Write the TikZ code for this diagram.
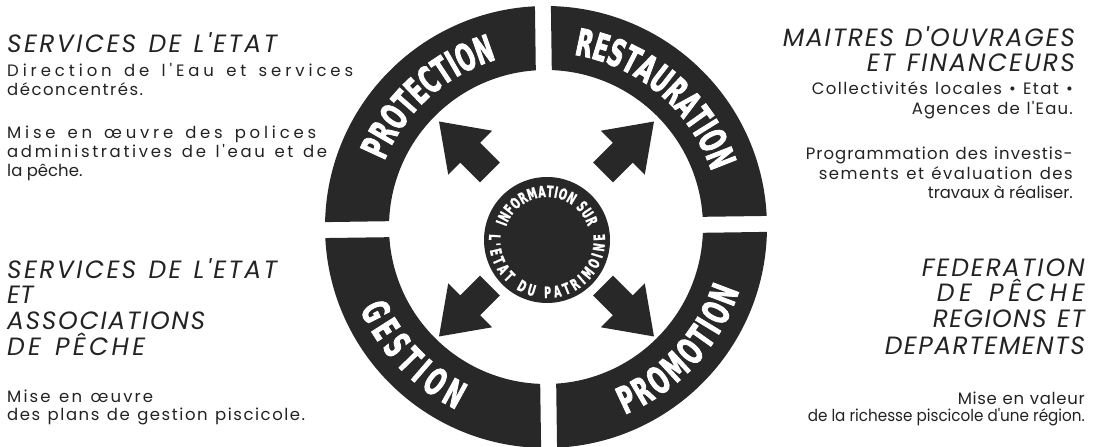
\documentclass[tikz,border=0pt]{standalone}
\usepackage{fontspec}
\usepackage{graphicx}
\usetikzlibrary{decorations.text}
\setmainfont{Poppins}
\newfontfamily\bodyfont{Poppins}
\newfontfamily\headfont{Poppins}
\newfontfamily\ringfont[FakeStretch=0.58,FakeBold=2]{DejaVu Sans}
\newfontfamily\discfont[FakeStretch=0.62,FakeBold=1.5]{DejaVu Sans}
\definecolor{ink}{RGB}{35,35,35}
\definecolor{ringgray}{RGB}{40,40,40}
\newlength\natw
\def\lsp#1{\lspA#1\relax}
\def\lspA#1{#1\lspB}
\def\lspB#1{\ifx#1\relax\else\hfill#1\expandafter\lspB\fi}
\newcommand\fitline[2]{\settowidth\natw{#2}\ifdim\natw<#1\relax\hbox to #1{\lsp{#2}}\else\resizebox{#1}{\height}{#2}\fi}
\tikzset{
  head/.style={font=\headfont\itshape\fontsize{25}{25}\selectfont, text=ink, inner sep=0pt},
  body/.style={font=\bodyfont\fontsize{16.5}{16.5}\selectfont, text=ink, inner sep=0pt},
  ringtext/.style={decorate, decoration={text along path, text color=white, text align={fit to path}}},
}
\begin{document}
\begin{tikzpicture}[x=1pt,y=1pt]
\fill[white] (0,0) rectangle (1104,447);
\useasboundingbox (0,0) rectangle (1104,447);

% ring
\begin{scope}[shift={(546,220)}, rotate=0.8]
  \foreach \a in {0,90,180,270}
    \fill[ringgray, rotate=\a] (2.07:221) arc[start angle=2.07, end angle=87.93, radius=221]
      -- (87.08:157) arc[start angle=87.08, end angle=2.92, radius=157] -- cycle;
  \path[ringtext, decoration={text={|\ringfont\bfseries\fontsize{37.5}{37.5}\selectfont|PROTECTION}}]
    (157:174.5) arc[start angle=157, end angle=106, radius=174.5];
  \path[ringtext, decoration={text={|\ringfont\bfseries\fontsize{37.5}{37.5}\selectfont|RESTAURATION}}]
    (80:174.5) arc[start angle=80, end angle=19, radius=174.5];
  \path[ringtext, decoration={text={|\ringfont\bfseries\fontsize{37.5}{37.5}\selectfont|GESTION}}]
    (203:203.5) arc[start angle=203, end angle=243, radius=203.5];
  \path[ringtext, decoration={text={|\ringfont\bfseries\fontsize{37.5}{37.5}\selectfont|PROMOTION}}]
    (292:203.5) arc[start angle=292, end angle=341, radius=203.5];
\end{scope}

% arrows
\begin{scope}[shift={(546.5,218)}]
  \foreach \a in {45,135,225,315}
    \fill[ringgray, rotate=\a] (80,-14) -- (108,-14) -- (108,-31) -- (152,0) -- (108,31) -- (108,14) -- (80,14) -- cycle;
\end{scope}

% central disc
\begin{scope}[shift={(547,207)}]
  \fill[ringgray] (0,0) circle[radius=63];
  \path[ringtext, decoration={text={|\discfont\bfseries\fontsize{15.5}{15.5}\selectfont|INFORMATION SUR}}]
    (162:43) arc[start angle=162, end angle=18, radius=43];
  \path[ringtext, decoration={text={|\discfont\bfseries\fontsize{15.5}{15.5}\selectfont|L'ETAT DU PATRIMOINE}}]
    (174:58) arc[start angle=174, end angle=366, radius=58];
\end{scope}

% top left
\node[head, anchor=base west] (tlh) at (7,394) {\fitline{270pt}{SERVICES~DE~L'ETAT}};
\node[body, anchor=base west] (tl1) at (7,370) {\fitline{346pt}{Direction~de~l'Eau~et~services}};
\node[body, anchor=base west] (tl2) at (7,351) {\fitline{136pt}{déconcentrés.}};
\node[body, anchor=base west] (tl3) at (7,308) {\fitline{309pt}{Mise~en~œuvre~des~polices}};
\node[body, anchor=base west] (tl4) at (7,289) {\fitline{320pt}{administratives~de~l'eau~et~de}};
\node[body, anchor=base west] (tl5) at (7,270) {la pêche.};

% top right
\node[head, anchor=base east] (trh1) at (1075,400) {\fitline{292pt}{MAITRES~D'OUVRAGES}};
\node[head, anchor=base east] (trh2) at (1075,375) {\fitline{208pt}{ET~FINANCEURS}};
\node[body, anchor=base east] (tr1) at (1073,352) {\fitline{261pt}{Collectivités~locales~•~Etat~•}};
\node[body, anchor=base east] (tr2) at (1073,332) {\fitline{161pt}{Agences~de~l'Eau.}};
\node[body, anchor=base east] (tr3) at (1073,287) {\fitline{267pt}{Programmation~des~investis-}};
\node[body, anchor=base east] (tr4) at (1073,267) {\fitline{254pt}{sements~et~évaluation~des}};
\node[body, anchor=base east] (tr5) at (1073,248) {\fitline{145pt}{travaux~à~réaliser.}};

% bottom left
\node[head, anchor=base west] (blh1) at (7,168) {\fitline{270pt}{SERVICES~DE~L'ETAT}};
\node[head, anchor=base west] (blh2) at (7,143) {ET};
\node[head, anchor=base west] (blh3) at (7,117) {\fitline{198pt}{ASSOCIATIONS}};
\node[head, anchor=base west] (blh4) at (7,91) {\fitline{138pt}{DE~PÊCHE}};
\node[body, anchor=base west] (bl1) at (7,44) {\fitline{146pt}{Mise~en~œuvre}};
\node[body, anchor=base west] (bl2) at (7,26) {\fitline{298pt}{des~plans~de~gestion~piscicole.}};

% bottom right
\node[head, anchor=base east] (brh1) at (1085,170) {\fitline{163pt}{FEDERATION}};
\node[head, anchor=base east] (brh2) at (1085,145) {\fitline{148pt}{DE~PÊCHE}};
\node[head, anchor=base east] (brh3) at (1085,119) {\fitline{152pt}{REGIONS~ET}};
\node[head, anchor=base east] (brh4) at (1085,92) {\fitline{200pt}{DEPARTEMENTS}};
\node[body, anchor=base east] (br1) at (1085,42) {\fitline{127pt}{Mise~en~valeur}};
\node[body, anchor=base east] (br2) at (1085,25) {\fitline{277pt}{de~la~richesse~piscicole~d'une~région.}};
\end{tikzpicture}
\end{document}
